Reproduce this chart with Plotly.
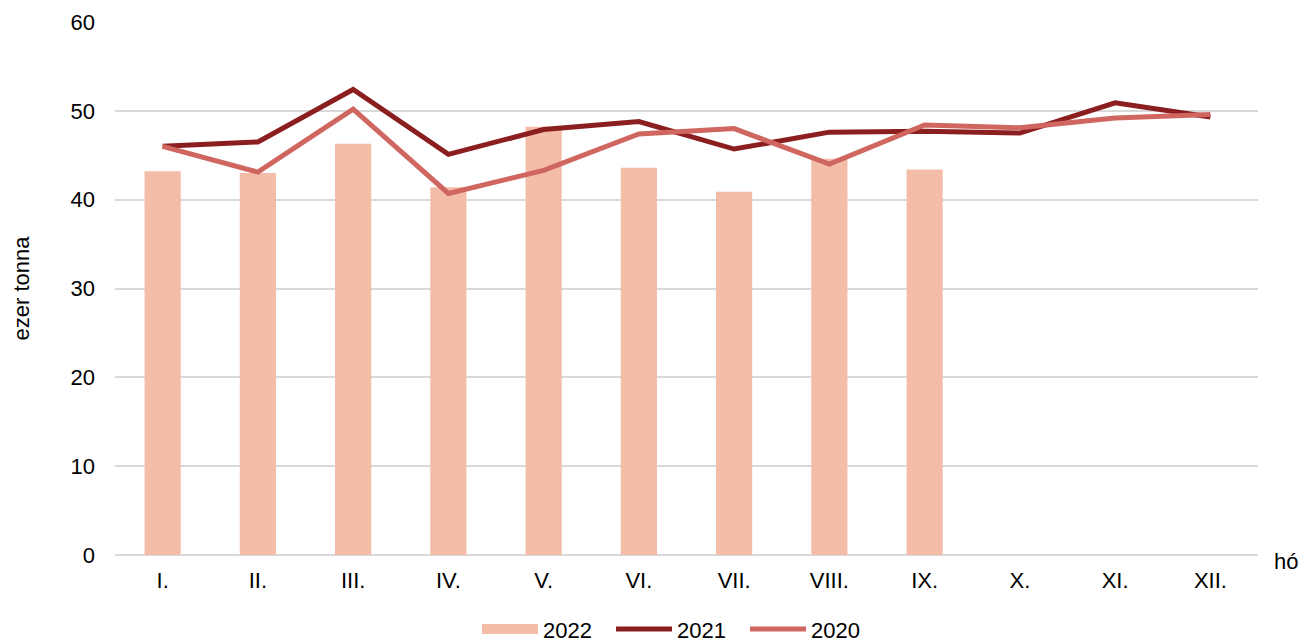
import plotly.graph_objects as go

months = ["I.", "II.", "III.", "IV.", "V.", "VI.", "VII.", "VIII.", "IX.", "X.", "XI.", "XII."]
y2022 = [43.2, 43.0, 46.3, 41.4, 48.2, 43.6, 40.9, 44.6, 43.4, None, None, None]
y2021 = [46.0, 46.5, 52.4, 45.1, 47.9, 48.8, 45.7, 47.6, 47.7, 47.5, 50.9, 49.3]
y2020 = [46.0, 43.1, 50.2, 40.7, 43.3, 47.4, 48.0, 44.0, 48.4, 48.1, 49.2, 49.6]
yticks = [0, 10, 20, 30, 40, 50, 60]

c2022 = "#F4BDA8"
c2021 = "#8B1E1E"
c2020 = "#D06660"

fig = go.Figure()
fig.add_trace(go.Bar(x=months, y=y2022, name="2022", showlegend=False,
                     marker=dict(color=c2022, line=dict(width=0))))
# legend proxy for the bar series (wide rectangular swatch)
fig.add_trace(go.Scatter(x=[months[0]], y=[None], name="2022", mode="lines",
                         line=dict(color=c2022, width=13), hoverinfo="skip"))
fig.add_trace(go.Scatter(x=months, y=y2021, name="2021", mode="lines",
                         line=dict(color=c2021, width=5)))
fig.add_trace(go.Scatter(x=months, y=y2020, name="2020", mode="lines",
                         line=dict(color=c2020, width=5)))

font = dict(family="Liberation Sans, Arial, sans-serif", size=22, color="#000000")
fig.update_layout(
    width=1301, height=634,
    margin=dict(l=107, r=51, t=14, b=87, autoexpand=False),
    plot_bgcolor="white", paper_bgcolor="white",
    font=font,
    bargap=0.62,
    showlegend=True,
    legend=dict(orientation="h", x=0.515, xanchor="center", xref="container",
                y=0.02, yanchor="middle", yref="container",
                font=font, itemwidth=56, entrywidth=63, traceorder="normal"),
    xaxis=dict(showgrid=False, showline=False, ticks="", tickfont=font,
               zeroline=False, ticklabelstandoff=10, automargin=False),
    yaxis=dict(range=[0, 60], tickvals=yticks, showgrid=True, gridcolor="#D9D9D9",
               gridwidth=1.5, zeroline=True, zerolinecolor="#D9D9D9", zerolinewidth=1.5,
               ticks="", tickfont=font, ticklabelstandoff=19, automargin=False),
    annotations=[
        dict(text="hó", xref="paper", yref="paper", x=1.012, y=0,
             xanchor="left", yanchor="middle", showarrow=False, font=font, yshift=-6),
        dict(text="ezer tonna", xref="paper", yref="paper", x=0, y=0.5, xshift=-94,
             xanchor="center", yanchor="middle", textangle=-90, showarrow=False, font=font),
    ],
)
fig.write_html("out.html")
